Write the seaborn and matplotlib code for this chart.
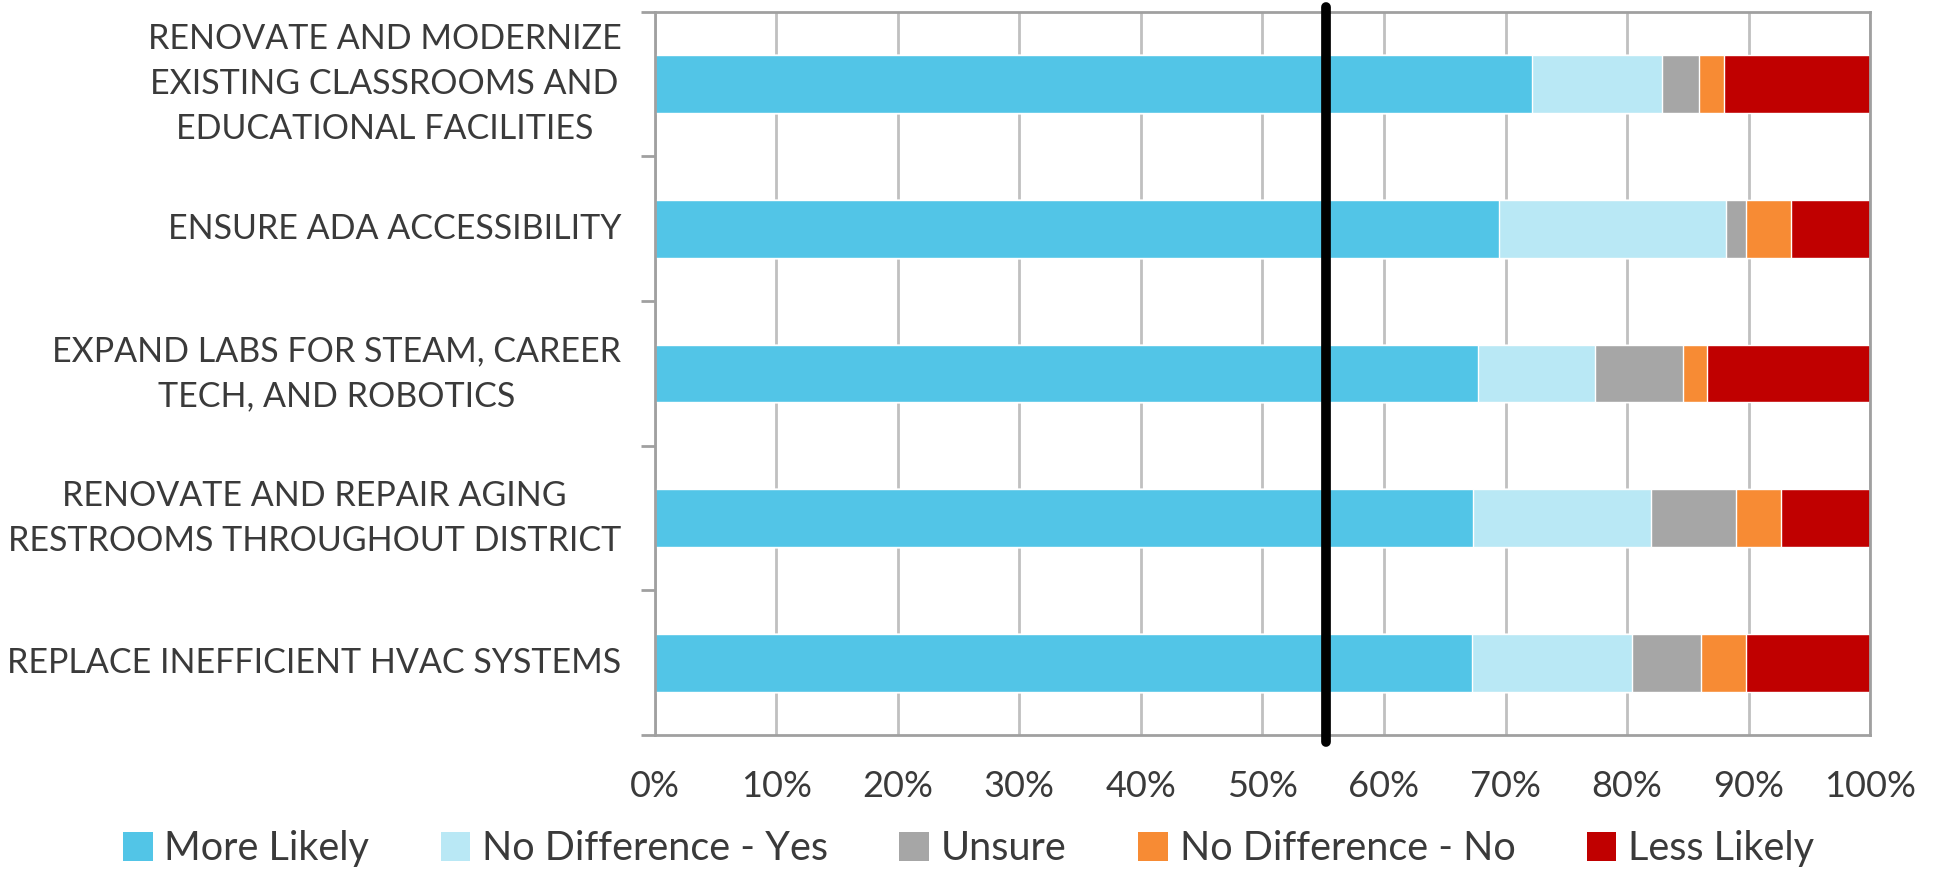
import numpy as np
import pandas as pd
import matplotlib
matplotlib.use("Agg")
import matplotlib.pyplot as plt
import matplotlib.transforms as mtransforms
import seaborn as sns
from matplotlib.patches import Patch

# データ（読み取り値, %）
categories = [
    "RENOVATE AND MODERNIZE\nEXISTING CLASSROOMS AND\nEDUCATIONAL FACILITIES",
    "ENSURE ADA ACCESSIBILITY",
    "EXPAND LABS FOR STEAM, CAREER\nTECH, AND ROBOTICS",
    "RENOVATE AND REPAIR AGING\nRESTROOMS THROUGHOUT DISTRICT",
    "REPLACE INEFFICIENT HVAC SYSTEMS",
]
series_names = ["More Likely", "No Difference - Yes", "Unsure", "No Difference - No", "Less Likely"]
more_likely = [72.2, 69.5, 67.7, 67.3, 67.2]
no_diff_yes = [10.7, 18.6, 9.7, 14.7, 13.2]
unsure = [3.0, 1.7, 7.2, 7.0, 5.7]
no_diff_no = [2.1, 3.7, 2.0, 3.7, 3.7]
less_likely = [12.0, 6.5, 13.4, 7.3, 10.2]
threshold = 55.2
x_ticks = [0, 10, 20, 30, 40, 50, 60, 70, 80, 90, 100]

colors = ["#52C5E7", "#B9E8F5", "#A6A6A6", "#F78B34", "#C00000"]
text_color = "#3a3a3a"

sns.set_theme(style="white")
plt.rcParams['font.family'] = ['Lato', 'DejaVu Sans']

df = pd.DataFrame({
    "category": categories,
    series_names[0]: more_likely,
    series_names[1]: no_diff_yes,
    series_names[2]: unsure,
    series_names[3]: no_diff_no,
    series_names[4]: less_likely,
})
cum = df[series_names].cumsum(axis=1)

fig = plt.figure(figsize=(19.37, 8.72), dpi=100)
ax = fig.add_axes([0.338, 0.157, 0.6275, 0.8295])

# 積み上げ：累積値を大きい方から重ねて描画
for name, col in reversed(list(zip(series_names, colors))):
    sns.barplot(x=cum[name], y=df["category"], orient="h", color=col,
                width=0.4, saturation=1, ax=ax, zorder=2)

ax.set_xlim(0, 100)
ax.set_ylim(4.5, -0.5)
ax.set_xlabel("")
ax.set_ylabel("")

ax.set_xticks(x_ticks)
ax.set_xticklabels([f"{t}%" for t in x_ticks])
ax.grid(True, axis="x", color="#c0c0c0", linewidth=2, zorder=0)
ax.set_axisbelow(True)

ax.set_yticks(range(len(categories)))
ax.set_yticklabels(categories)
ax.set_yticks(np.arange(-0.5, len(categories), 1), minor=True)

ax.tick_params(axis="y", which="major", length=0, pad=24, labelsize=24.5, labelcolor=text_color)
ax.tick_params(axis="y", which="minor", length=10, width=2, color="#a0a0a0", left=True)
ax.tick_params(axis="x", which="major", length=0, pad=25, labelsize=26, labelcolor=text_color)

# 複数行ラベルは中央揃え、少し上へずらす
for lbl in ax.get_yticklabels():
    lbl.set_multialignment("center")
    lbl.set_linespacing(1.5)
    dy = 0.095 if "\n" in lbl.get_text() else 0.025
    shift = mtransforms.ScaledTranslation(0, dy, fig.dpi_scale_trans)
    lbl.set_transform(lbl.get_transform() + shift)

for s in ax.spines.values():
    s.set_color("#a0a0a0")
    s.set_linewidth(2)

# 基準線
ax.axvline(threshold, ymin=-0.01, ymax=1.006, color="black", linewidth=7, clip_on=False, zorder=5)

handles = [Patch(facecolor=c, edgecolor="none", label=n) for n, c in zip(series_names, colors)]
fig.legend(handles=handles, loc="lower center", bbox_to_anchor=(0.5, -0.035), ncol=5,
           frameon=False, fontsize=28.5, handlelength=0.75, handleheight=0.75,
           handletextpad=0.3, columnspacing=1.8, labelcolor=text_color)

fig.savefig("out.png", dpi=100)
